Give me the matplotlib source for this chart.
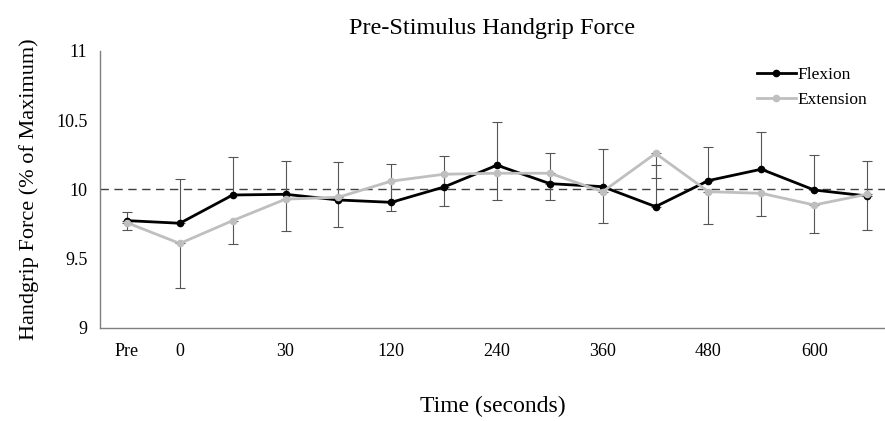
import numpy as np
import matplotlib
matplotlib.use('Agg')
import matplotlib.pyplot as plt

plt.rcParams['font.family'] = ['Liberation Serif', 'DejaVu Serif']

# data
etichette = ['Pre', '0', '', '30', '', '120', '', '240', '', '360', '', '480', '', '600', '']
flessione = [9.775, 9.756, 9.96, 9.965, 9.924, 9.907, 10.018, 10.175, 10.042, 10.02,
             9.876, 10.064, 10.146, 9.996, 9.953]
estensione = [9.76, 9.61, 9.775, 9.93, 9.944, 10.06, 10.11, 10.117, 10.117, 9.984,
              10.26, 9.984, 9.972, 9.888, 9.965]
err_fless = [0.061, 0.318, 0.277, 0.240, 0.272, 0.274, 0.224, 0.310, 0.224, 0.272,
             0.299, 0.245, 0.267, 0.253, 0.253]   # solo verso l'alto
err_est = [0.053, 0.325, 0.170, 0.229, 0.214, 0.214, 0.231, 0.193, 0.193, 0.224,
           0.176, 0.233, 0.162, 0.204, 0.258]      # solo verso il basso

x = np.arange(len(etichette))
zeri = np.zeros(len(x))

fig = plt.figure(figsize=(8.85, 4.21), dpi=100)
ax = fig.add_axes([0.113, 0.221, 0.887, 0.658])

ax.axhline(10, color='#404040', linestyle=(0, (6, 4)), linewidth=1.0, zorder=1)

ax.errorbar(x, flessione, yerr=[zeri, err_fless], fmt='none', ecolor='#555555',
            elinewidth=0.8, capsize=3.5, capthick=0.8, zorder=2)
ax.errorbar(x, estensione, yerr=[err_est, zeri], fmt='none', ecolor='#555555',
            elinewidth=0.8, capsize=3.5, capthick=0.8, zorder=2)

ax.plot(x, flessione, color='black', linewidth=2.0, marker='o', markersize=4.5,
        label='Flexion', zorder=3)
ax.plot(x, estensione, color='#bfbfbf', linewidth=2.0, marker='o', markersize=4.5,
        label='Extension', zorder=4)

ax.set_xlim(-0.51, 14.34)
ax.set_ylim(9, 11)
ax.set_yticks([9, 9.5, 10, 10.5, 11])
ax.set_yticklabels(['9', '9.5', '10', '10.5', '11'])
ax.set_xticks(x)
ax.set_xticklabels(etichette)
ax.tick_params(axis='both', length=0, labelsize=13, colors='black')
ax.tick_params(axis='x', pad=11)
ax.tick_params(axis='y', pad=9)

for lato in ['top', 'right']:
    ax.spines[lato].set_visible(False)
for lato in ['left', 'bottom']:
    ax.spines[lato].set_color('#7f7f7f')
    ax.spines[lato].set_linewidth(1.0)

ax.set_title('Pre-Stimulus Handgrip Force', fontsize=17.5, pad=12)
ax.set_ylabel('Handgrip Force (% of Maximum)', fontsize=16, labelpad=12)
ax.set_xlabel('Time (seconds)', fontsize=17, labelpad=26)

ax.legend(loc='upper right', frameon=False, fontsize=12.5, handlelength=2.2,
          handletextpad=0.1, bbox_to_anchor=(0.997, 1.0), labelspacing=0.55)

fig.savefig('out.png')
